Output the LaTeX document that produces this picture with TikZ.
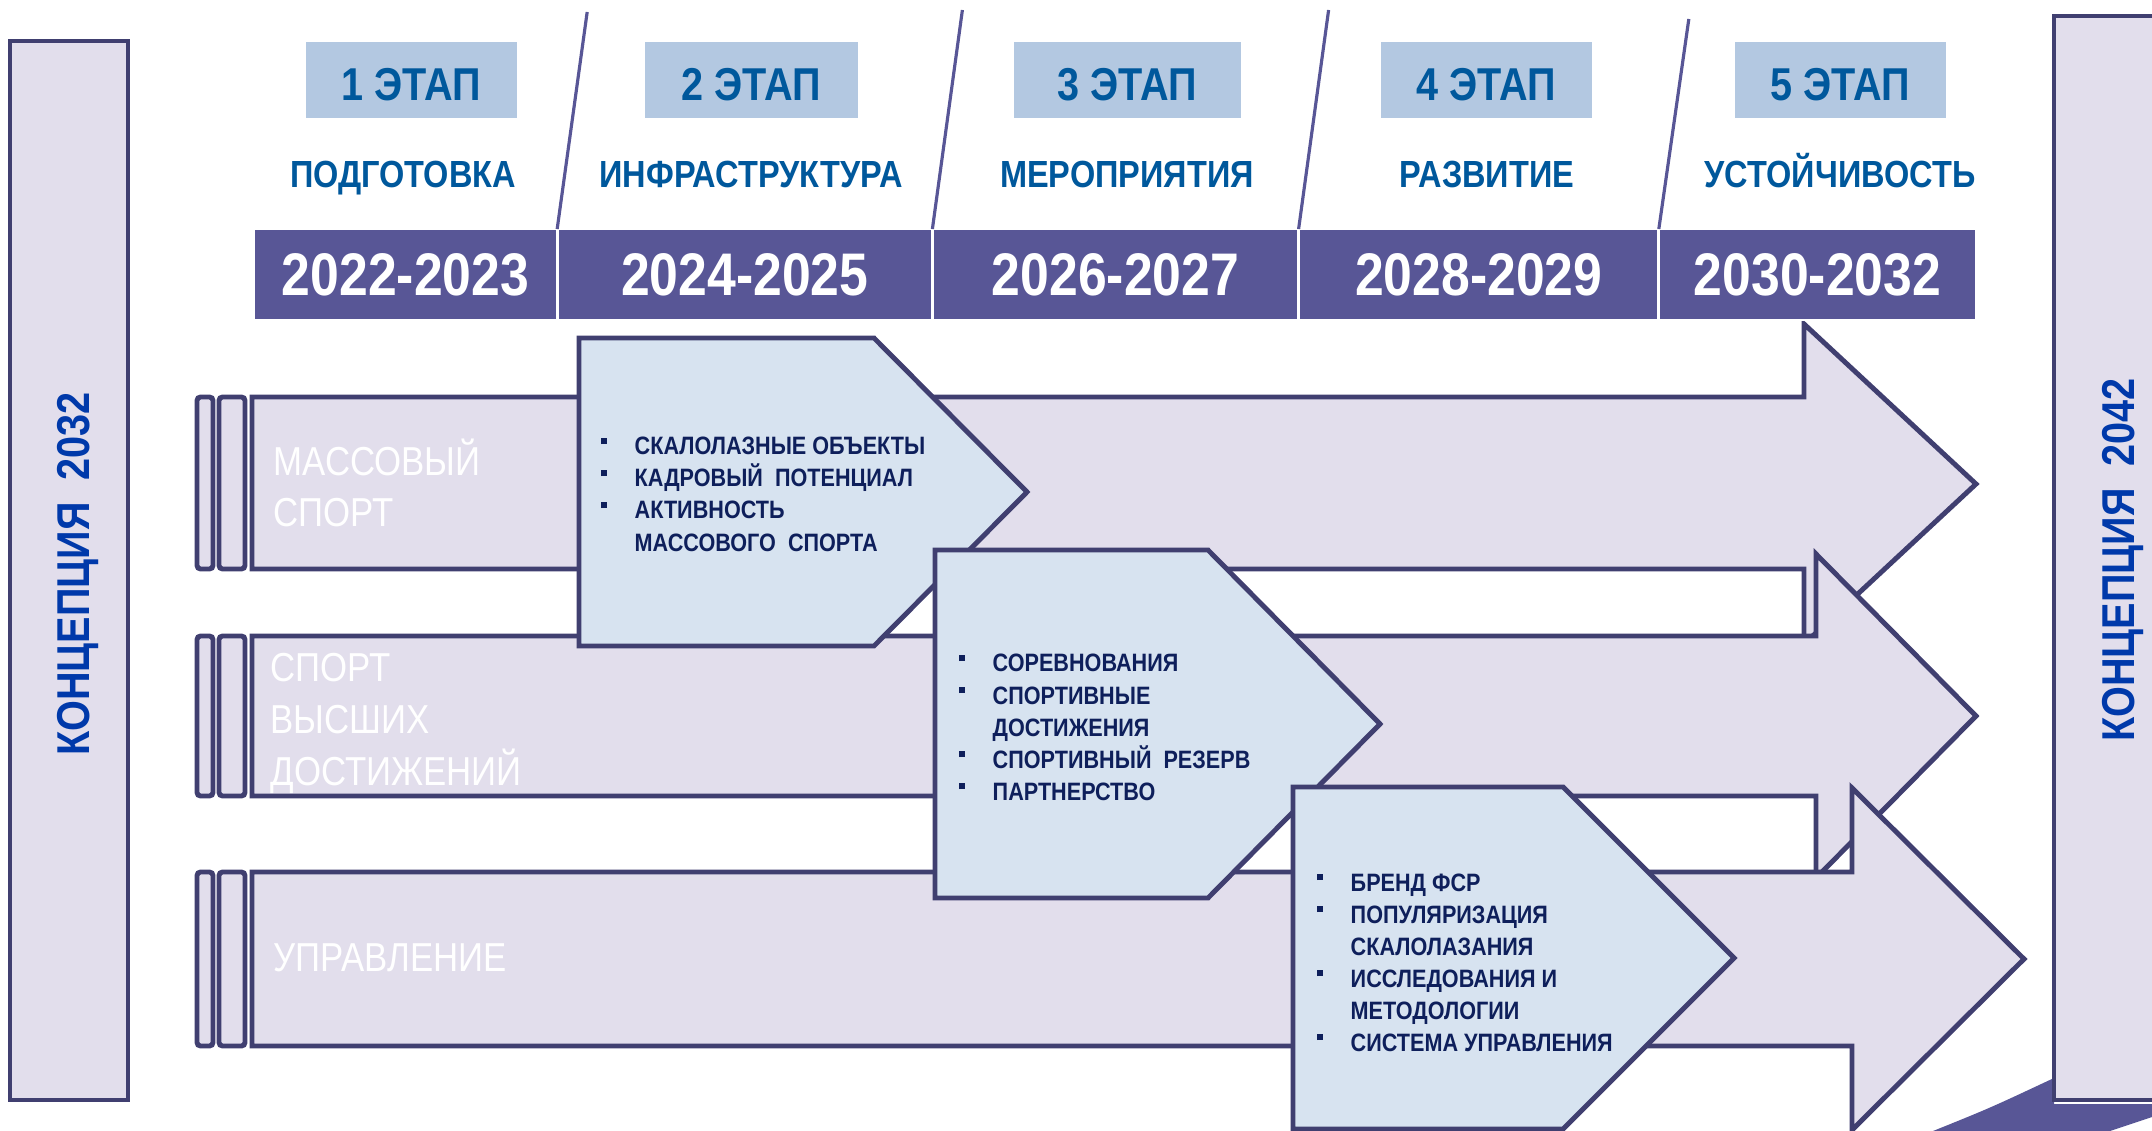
\documentclass[tikz,border=0pt]{standalone}
\usepackage{fontspec}
\setmainfont{Liberation Sans}
\newfontfamily\narrow[FakeStretch=0.86]{Liberation Sans}
\usetikzlibrary{positioning}

\definecolor{lav}{HTML}{E2DEEC}
\definecolor{pale}{HTML}{D7E3F0}
\definecolor{frame}{HTML}{403F70}
\definecolor{bar}{HTML}{585696}
\definecolor{stagebg}{HTML}{B3C8E1}
\definecolor{stagefg}{HTML}{00589C}
\definecolor{navy}{HTML}{0E1F5B}
\definecolor{conc}{HTML}{0039AA}

\newcommand\blt{\llap{\rule[3.1pt]{1.7pt}{1.7pt}\hspace{8pt}}}

\begin{document}
\begin{tikzpicture}
[x=0.01cm,y=-0.01cm,%
  band/.style={draw=frame,fill=lav,line width=1.4pt},%
  callout/.style={draw=frame,fill=pale,line width=1.4pt},%
  stage/.style={fill=stagebg,text=stagefg,minimum height=0.76cm,inner sep=0pt,%
    text height=0.4cm,text depth=0pt,%
    font=\narrow\bfseries\fontsize{13.1}{15}\selectfont},%
  sub/.style={anchor=base,text=stagefg,inner sep=0pt,%
    font=\narrow\bfseries\fontsize{10.75}{12}\selectfont},%
  yr/.style={fill=bar,draw=white,line width=0.8pt,outer sep=0pt,inner sep=0pt,%
    minimum height=0.91cm,text=white,font=\narrow\bfseries\fontsize{17.1}{20}\selectfont},%
  tick/.style={draw=bar,line width=0.9pt},%
  lbl/.style={anchor=base west,inner sep=0pt,text=white,%
    font=\narrow\fontsize{11.5}{14}\selectfont},%
  item/.style={anchor=base west,inner sep=0pt,text=navy,%
    font=\narrow\bfseries\fontsize{7.15}{9}\selectfont},%
  concept/.style={rotate=90,anchor=base,inner sep=0pt,text=conc,%
    font=\narrow\bfseries\fontsize{13.1}{15}\selectfont}]
\clip (0,0) rectangle (2152,1131);

% side boxes
\draw[band] (10,41) rectangle (128,1100);
\fill[bar] (1933,1131) .. controls (1990,1108) .. (2054,1078) -- (2054,1104)
  -- (2152,1104) -- (2152,1117) -- (2110,1131) -- cycle;
\draw[band] (2054,16) rectangle (2170,1100);
\node[concept] (c1) at (89,574) {КОНЦЕПЦИЯ~~2032};
\node[concept] (c2) at (2134,560) {КОНЦЕПЦИЯ~~2042};

% big arrows
\draw[band] (252,397) -- (1804,397) -- (1804,324) -- (1976,484)
  -- (1804,644) -- (1804,569) -- (252,569) -- cycle;
\draw[band] (252,636) -- (1816,636) -- (1816,554) -- (1976,716)
  -- (1816,878) -- (1816,796) -- (252,796) -- cycle;
\draw[band] (252,872) -- (1852,872) -- (1852,788) -- (2024,959)
  -- (1852,1130) -- (1852,1046) -- (252,1046) -- cycle;
\foreach \t/\b in {397/569,636/796,872/1046}
{
  \draw[band,rounded corners=1pt] (197,\t) rectangle (213,\b);
  \draw[band,rounded corners=1pt] (219,\t) rectangle (245,\b);
}
\node[lbl] (m1) at (273,476) {МАССОВЫЙ};
\node[lbl] (m2) at (273,527) {СПОРТ};
\node[lbl] (h1) at (270,682) {СПОРТ};
\node[lbl] (h2) at (270,733) {ВЫСШИХ};
\node[lbl] (h3) at (270,785) {ДОСТИЖЕНИЙ};
\node[lbl] (u1) at (273,971) {УПРАВЛЕНИЕ};

% callouts
\draw[callout] (579,338) -- (874,338) -- (1027,492) -- (874,646) -- (579,646) -- cycle;
\draw[callout] (935,550) -- (1208,550) -- (1380,724) -- (1208,898) -- (935,898) -- cycle;
\draw[callout] (1293,787) -- (1563,787) -- (1734,958) -- (1563,1129) -- (1293,1129) -- cycle;
\foreach \t [count=\i] in {\blt СКАЛОЛАЗНЫЕ ОБЪЕКТЫ, \blt КАДРОВЫЙ~~ПОТЕНЦИАЛ,
  \blt АКТИВНОСТЬ, МАССОВОГО~~СПОРТА}
  \node[item] (a\i) at (634,{423+32*\i}) {\t};
\foreach \t [count=\i] in {\blt СОРЕВНОВАНИЯ, \blt СПОРТИВНЫЕ, ДОСТИЖЕНИЯ,
  \blt СПОРТИВНЫЙ~~РЕЗЕРВ, \blt ПАРТНЕРСТВО}
  \node[item] (b\i) at (992,{640+32*\i}) {\t};
\foreach \t [count=\i] in {\blt БРЕНД ФСР, \blt ПОПУЛЯРИЗАЦИЯ, СКАЛОЛАЗАНИЯ,
  \blt ИССЛЕДОВАНИЯ И, МЕТОДОЛОГИИ, \blt СИСТЕМА УПРАВЛЕНИЯ}
  \node[item] (d\i) at (1350,{859+32*\i}) {\t};

% header
\foreach \n/\x/\w in {1/411.5/2.11,2/751.5/2.13,3/1127.5/2.27,4/1486.5/2.11,5/1840.5/2.11}
  \node[stage,minimum width=\w cm] (st\n) at (\x,80) {\n~ЭТАП};
\foreach \x/\t [count=\n] in {403/ПОДГОТОВКА,751/ИНФРАСТРУКТУРА,1127/МЕРОПРИЯТИЯ,%
  1487/РАЗВИТИЕ,1840/УСТОЙЧИВОСТЬ}
  \node[sub] (sub\n) at (\x,188) {\t};
\node[yr,minimum width=3.03cm,anchor=north west] (yr1) at (254,229) {2022-2023};
\node[yr,minimum width=3.75cm,right=0pt of yr1] (yr2) {2024-2025};
\node[yr,minimum width=3.66cm,right=0pt of yr2] (yr3) {2026-2027};
\node[yr,minimum width=3.60cm,right=0pt of yr3] (yr4) {2028-2029};
\node[yr,minimum width=3.17cm,right=0pt of yr4] (yr5) {2030-2032};
\foreach \n/\h in {2/217,3/219,4/219,5/210}
  \draw[tick] (yr\n.north west) -- ++(30,-\h) coordinate (top\n);
\end{tikzpicture}
\end{document}
